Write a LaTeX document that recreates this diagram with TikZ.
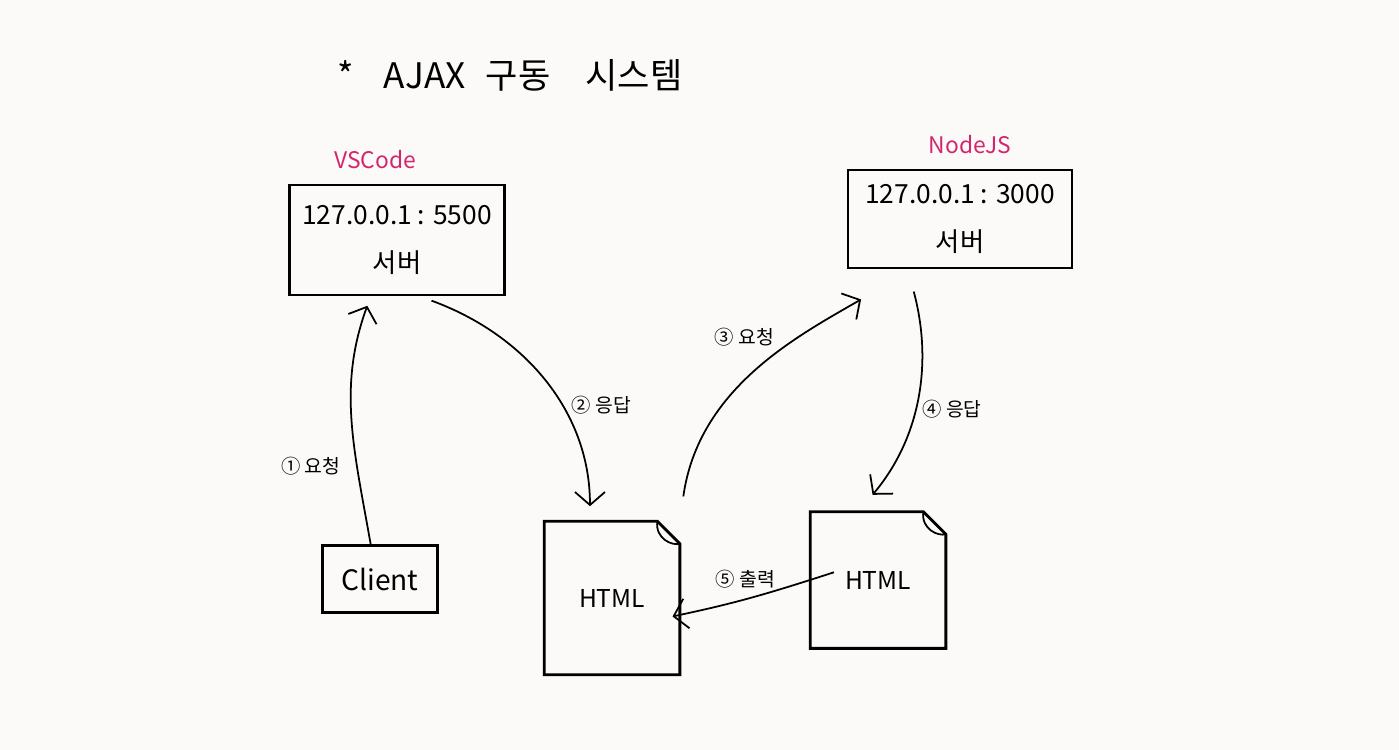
\documentclass[tikz,border=0pt]{standalone}
\usepackage{fontspec}
\setmainfont{Noto Sans CJK KR}
\usetikzlibrary{arrows.meta}
\definecolor{paper}{RGB}{251,250,248}
\definecolor{pinkink}{RGB}{212,38,110}

\begin{document}
\begin{tikzpicture}[
  x = 0.02cm, y = -0.02cm,
  server/.style = {
    draw = black,
    line width = 1.6pt,
    inner sep = 0pt,
    align = center,
    font = \fontsize{15}{27}\selectfont,
  },
  page/.style = {
    inner sep = 0pt,
    minimum width = 2.7cm,
    font = \fontsize{14}{16}\selectfont,
  },
  tag/.style = { text = pinkink, font = \fontsize{13}{15}\selectfont },
  flow/.style = { -{Straight Barb[length = 2.6mm, width = 6mm]}, line width = 1pt },
  note/.style = { font = \fontsize{11}{13}\selectfont }
]
  \fill[paper] (0, 0) rectangle (1399, 750);

  \node[font = \fontsize{20}{24}\selectfont] (title) at (510, 75)
    {*\hspace{0.6cm}AJAX\hspace{0.4cm}구동\hspace{0.7cm}시스템};

  \node[tag] (vscode) at (375, 160) {VSCode};
  \node[tag] (nodejs) at (970, 145) {NodeJS};

  \node[server, minimum width = 4.3cm, minimum height = 2.2cm] (live) at (397, 240)
    {127.0.0.1 : 5500\\서버};
  \node[server, minimum width = 4.48cm, minimum height = 1.96cm] (api) at (960, 219)
    {127.0.0.1 : 3000\\서버};

  \node[server, font = \fontsize{16}{18}\selectfont,
    minimum width = 2.3cm, minimum height = 1.34cm] (client) at (380, 579) {Client};

  \node[page, minimum height = 3.06cm] (html1) at (612, 598) {HTML};
  \node[page, minimum height = 2.72cm] (html2) at (878, 580) {HTML};

  % pages with a folded corner
  \foreach \doc in {html1, html2} {
    \draw[line width = 1.6pt]
      ([xshift = -0.45cm]\doc.north east) -- (\doc.north west) -- (\doc.south west)
      -- (\doc.south east) -- ([yshift = -0.45cm]\doc.north east) -- cycle;
    \draw[line width = 1pt]
      ([xshift = -0.45cm]\doc.north east)
      .. controls ([xshift = -0.5cm, yshift = -0.35cm]\doc.north east)
      and ([xshift = -0.15cm, yshift = -0.5cm]\doc.north east)
      .. ([yshift = -0.45cm]\doc.north east);
  }

  \begin{scope}[every path/.style = flow, every node/.style = note]
    \draw[shorten > = 2mm] (client.105) to[out = 100, in = -110]
      node[pos = 0.3, left = 0.2cm] {① 요청} (live.245);

    \draw[shorten < = 2.5mm, shorten > = 3mm] (live.-68) to[out = -20, in = 90]
      node[pos = 0.6, right = 0.1cm] {② 응답} (html1.106);

    \draw[shorten < = 5mm, shorten > = 12mm] (html1.north east) to[out = 82, in = 210]
      node[pos = 0.58, above left = 0cm] {③ 요청} (api.227);

    \draw[shorten < = 4.6mm, shorten > = 4.4mm] (api.224) to[out = -75, in = 50]
      node[pos = 0.55, right = 0.05cm] {④ 응답} (html2.106);

    \draw[shorten < = -0.5cm, shorten > = -0.15cm] (html2.west) to[bend left = 3]
      node[midway, above = 0.1cm] {⑤ 출력} (html1.-14);
  \end{scope}
\end{tikzpicture}
\end{document}
